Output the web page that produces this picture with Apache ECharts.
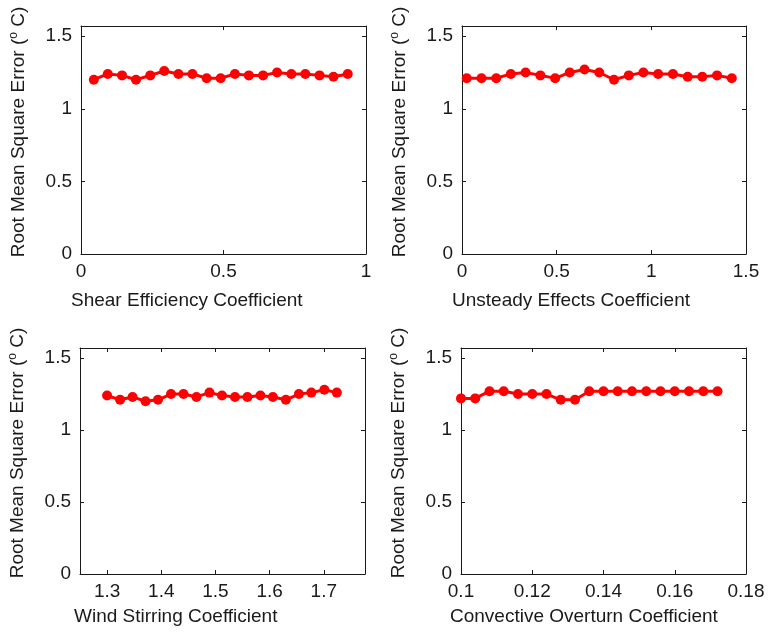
<!DOCTYPE html>
<html>
<head>
<meta charset="utf-8">
<script src="https://cdn.jsdelivr.net/npm/echarts@6/dist/echarts.min.js"></script>
<style>
  html, body { margin: 0; padding: 0; background: #fff; }
  #chart { width: 768px; height: 634px; }
</style>
</head>
<body>
<div id="chart"></div>
<script>
// Sensitivity of RMS error to four mixing-model coefficients
const shearX = [0.045, 0.094, 0.144, 0.193, 0.243, 0.292, 0.342, 0.391, 0.441, 0.490,
                0.540, 0.589, 0.639, 0.688, 0.738, 0.787, 0.837, 0.886, 0.936];
const shearRmse = [1.20, 1.24, 1.23, 1.20, 1.23, 1.26, 1.24, 1.24, 1.21, 1.21,
                   1.24, 1.23, 1.23, 1.25, 1.24, 1.24, 1.23, 1.22, 1.24];

const unsteadyX = [0.025, 0.103, 0.181, 0.258, 0.336, 0.414, 0.492, 0.569, 0.647, 0.725,
                   0.803, 0.881, 0.958, 1.036, 1.114, 1.192, 1.269, 1.347, 1.425];
const unsteadyRmse = [1.21, 1.21, 1.21, 1.24, 1.25, 1.23, 1.21, 1.25, 1.27, 1.25,
                      1.20, 1.23, 1.25, 1.24, 1.24, 1.22, 1.22, 1.23, 1.21];

const windX = [1.300, 1.324, 1.347, 1.371, 1.394, 1.418, 1.441, 1.465, 1.489, 1.512,
               1.536, 1.559, 1.583, 1.606, 1.630, 1.654, 1.677, 1.701, 1.724];
const windRmse = [1.24, 1.21, 1.23, 1.20, 1.21, 1.25, 1.25, 1.23, 1.26, 1.24,
                  1.23, 1.23, 1.24, 1.23, 1.21, 1.25, 1.26, 1.28, 1.26];

const convX = [0.100, 0.104, 0.108, 0.112, 0.116, 0.120, 0.124, 0.128, 0.132, 0.136,
               0.140, 0.144, 0.148, 0.152, 0.156, 0.160, 0.164, 0.168, 0.172];
const convRmse = [1.22, 1.22, 1.27, 1.27, 1.25, 1.25, 1.25, 1.21, 1.21, 1.27,
                  1.27, 1.27, 1.27, 1.27, 1.27, 1.27, 1.27, 1.27, 1.27];

const xTitles = ['Shear Efficiency Coefficient', 'Unsteady Effects Coefficient',
                 'Wind Stirring Coefficient', 'Convective Overturn Coefficient'];
const xTicks = [[0, 0.5, 1], [0, 0.5, 1, 1.5], [1.3, 1.4, 1.5, 1.6, 1.7],
                [0.1, 0.12, 0.14, 0.16, 0.18]];
const xRanges = [[0, 1], [0, 1.5], [1.25, 1.776], [0.1, 0.18]];
const yTicks = [0, 0.5, 1, 1.5];
const yMax = 1.57;

const panels = [
  { x: shearX, y: shearRmse },
  { x: unsteadyX, y: unsteadyRmse },
  { x: windX, y: windRmse },
  { x: convX, y: convRmse }
];

const FONT = '"Liberation Sans", Arial, sans-serif';
const INK = '#1a1a1a';

const grids = [
  { left: 81, top: 26, width: 285, height: 228 },
  { left: 462, top: 26, width: 284, height: 228 },
  { left: 80, top: 348, width: 285, height: 226 },
  { left: 461, top: 348, width: 285, height: 226 }
];
const titlePos = [
  { left: 71, top: 291 }, { left: 452, top: 291 },
  { left: 74, top: 607 }, { left: 450, top: 607 }
];

const xAxes = [], yAxes = [], series = [], titles = [];
panels.forEach((p, i) => {
  const tickFmt = v => String(v);
  // bottom axis with labels
  xAxes.push({
    type: 'value', gridIndex: i, position: 'bottom',
    min: xRanges[i][0], max: xRanges[i][1],
    splitLine: { show: false },
    axisLine: { show: true, onZero: false, lineStyle: { color: INK, width: 1 } },
    axisTick: { show: true, inside: true, length: 4, customValues: xTicks[i], lineStyle: { color: INK } },
    axisLabel: { show: true, customValues: xTicks[i], margin: 8, fontSize: 19,
                 fontFamily: FONT, color: INK, formatter: tickFmt }
  });
  // top frame edge with mirrored ticks
  xAxes.push({
    type: 'value', gridIndex: i, position: 'top',
    min: xRanges[i][0], max: xRanges[i][1],
    splitLine: { show: false },
    axisLine: { show: true, onZero: false, lineStyle: { color: INK, width: 1 } },
    axisTick: { show: true, inside: true, length: 4, customValues: xTicks[i], lineStyle: { color: INK } },
    axisLabel: { show: false }
  });
  // left axis with labels and title
  yAxes.push({
    type: 'value', gridIndex: i, position: 'left',
    min: 0, max: yMax,
    name: 'Root Mean Square Error ({sup|o} C)',
    nameLocation: 'middle', nameRotate: 90, nameGap: 52,
    nameTextStyle: {
      fontSize: 19, fontFamily: FONT, color: INK, padding: [0, 0, 0, 16],
      rich: { sup: { fontSize: 12, fontFamily: FONT, color: INK, padding: [0, 0, 9, 0] } }
    },
    splitLine: { show: false },
    axisLine: { show: true, onZero: false, lineStyle: { color: INK, width: 1 } },
    axisTick: { show: true, inside: true, length: 4, customValues: yTicks, lineStyle: { color: INK } },
    axisLabel: { show: true, customValues: yTicks, margin: 9, fontSize: 19,
                 fontFamily: FONT, color: INK, formatter: v => String(v) }
  });
  // right frame edge with mirrored ticks
  yAxes.push({
    type: 'value', gridIndex: i, position: 'right',
    min: 0, max: yMax,
    splitLine: { show: false },
    axisLine: { show: true, onZero: false, lineStyle: { color: INK, width: 1 } },
    axisTick: { show: true, inside: true, length: 4, customValues: yTicks, lineStyle: { color: INK } },
    axisLabel: { show: false }
  });
  series.push({
    type: 'line',
    xAxisIndex: 2 * i, yAxisIndex: 2 * i,
    data: p.x.map((xv, k) => [xv, p.y[k]]),
    symbol: 'circle', symbolSize: 10,
    itemStyle: { color: '#ff0000' },
    lineStyle: { color: '#ff0000', width: 3 },
    animation: false
  });
  titles.push({
    text: xTitles[i], left: titlePos[i].left, top: titlePos[i].top, padding: 0,
    textStyle: { fontSize: 19, fontWeight: 'normal', fontFamily: FONT, color: INK }
  });
});

const chart = echarts.init(document.getElementById('chart'), null, { renderer: 'canvas' });
chart.setOption({
  backgroundColor: '#ffffff',
  animation: false,
  title: titles,
  grid: grids,
  xAxis: xAxes,
  yAxis: yAxes,
  series: series
});
</script>
</body>
</html>
